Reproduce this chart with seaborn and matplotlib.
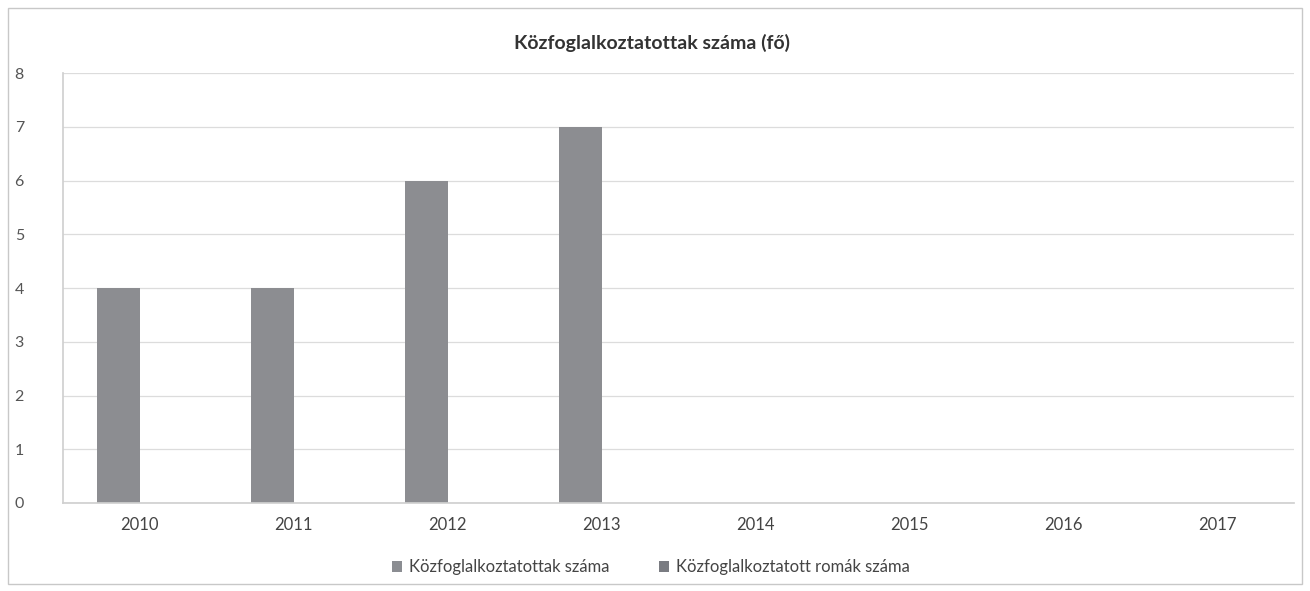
import numpy as np
import pandas as pd
import matplotlib
matplotlib.use("Agg")
import matplotlib.pyplot as plt
import matplotlib.patches as mpatches
import seaborn as sns

years = ["2010", "2011", "2012", "2013", "2014", "2015", "2016", "2017"]
series_names = ["Közfoglalkoztatottak száma", "Közfoglalkoztatott romák száma"]
values_total = [4, 4, 6, 7, 0, 0, 0, 0]
values_roma = [0, 0, 0, 0, 0, 0, 0, 0]
yticks = [0, 1, 2, 3, 4, 5, 6, 7, 8]
title = "Közfoglalkoztatottak száma (fő)"
colors = ["#8b8d92", "#7a7c82"]

df = pd.DataFrame({
    "year": years * 2,
    "series": [series_names[0]] * len(years) + [series_names[1]] * len(years),
    "value": values_total + values_roma,
})

sns.set_theme(style="white")
plt.rcParams["font.family"] = ["Lato", "DejaVu Sans"]

fig = plt.figure(figsize=(13.1, 5.91), dpi=100)
ax = fig.add_axes([0.048, 0.149, 0.94, 0.727])

sns.barplot(data=df, x="year", y="value", hue="series", order=years,
            hue_order=series_names, palette=colors, width=0.56, gap=0,
            dodge=True, errorbar=None, ax=ax, legend=False, linewidth=0)

ax.set_ylim(0, 8)
ax.set_xlim(-0.5, len(years) - 0.5)
ax.set_yticks(yticks)
ax.set_yticklabels([str(v) for v in yticks])
ax.yaxis.grid(True, color="#dcdcdc", linewidth=0.9)
ax.set_axisbelow(True)
for s in ["top", "right"]:
    ax.spines[s].set_visible(False)
ax.spines["left"].set_color("#d0d0d0")
ax.spines["bottom"].set_color("#d0d0d0")
ax.tick_params(axis="y", length=0, pad=28, labelsize=11.5, labelcolor="#555555")
ax.tick_params(axis="x", length=0, pad=10, labelsize=12, labelcolor="#444444")
ax.set_xlabel("")
ax.set_ylabel("")

fig.text(0.498, 0.928, title, ha="center", va="center", fontsize=14,
         fontweight="bold", color="#333333")

handles = [mpatches.Patch(facecolor=c, edgecolor="none") for c in colors]
fig.legend(handles, series_names, loc="center", bbox_to_anchor=(0.497, 0.04),
           ncol=2, frameon=False, fontsize=12, handlelength=0.6,
           handleheight=0.6, handletextpad=0.4, columnspacing=3.0,
           labelcolor="#444444")

border = mpatches.Rectangle((0.006, 0.012), 0.988, 0.975, transform=fig.transFigure,
                            fill=False, edgecolor="#c8c8c8", linewidth=1.0)
fig.patches.append(border)

fig.savefig("out.png", dpi=100, facecolor="white")
